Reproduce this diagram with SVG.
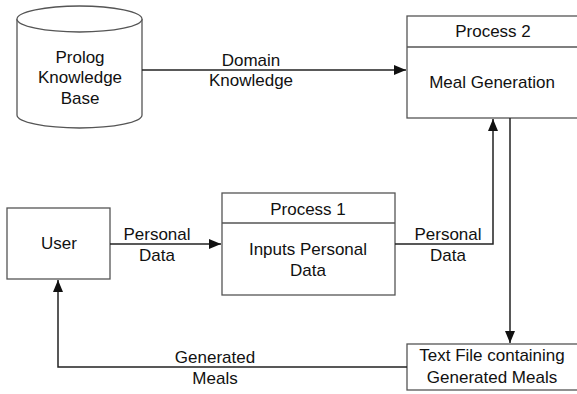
<svg xmlns="http://www.w3.org/2000/svg" width="577" height="394" viewBox="0 0 577 394">
  <style>
    .box { fill: #ffffff; stroke: #555555; stroke-width: 1.3; }
    .wire { fill: none; stroke: #222222; stroke-width: 1.5; }
    text { font-family: "Liberation Sans", Arial, sans-serif; font-size: 17px; fill: #111111; text-anchor: middle; }
  </style>
  <defs>
    <marker id="arrow" viewBox="0 0 12 10" refX="12" refY="5" markerWidth="12" markerHeight="10" markerUnits="userSpaceOnUse" orient="auto">
      <path d="M0,0 L12,5 L0,10 Z" fill="#111111"/>
    </marker>
  </defs>
  <rect width="577" height="394" fill="#ffffff"/>

  <!-- data store -->
  <g id="prolog-kb">
    <path class="box" d="M17,19 L17,115 A62.5,13 0 0 0 142,115 L142,19"/>
    <ellipse class="box" cx="79.5" cy="19" rx="62.5" ry="13"/>
    <text x="80" y="63">Prolog</text>
    <text x="80" y="83">Knowledge</text>
    <text x="80" y="104">Base</text>
  </g>

  <g id="process-2">
    <rect class="box" x="407" y="16" width="175" height="102"/>
    <line class="box" x1="407" y1="47" x2="582" y2="47"/>
    <text x="493" y="37">Process 2</text>
    <text x="492" y="88">Meal Generation</text>
  </g>

  <g id="user">
    <rect class="box" x="7" y="208" width="103" height="71"/>
    <text x="59" y="249">User</text>
  </g>

  <g id="process-1">
    <rect class="box" x="222" y="193" width="173" height="102"/>
    <line class="box" x1="222" y1="223" x2="395" y2="223"/>
    <text x="308" y="215">Process 1</text>
    <text x="308" y="255">Inputs Personal</text>
    <text x="308" y="276">Data</text>
  </g>

  <g id="text-file">
    <rect class="box" x="407" y="344" width="175" height="46"/>
    <text x="492" y="361">Text File containing</text>
    <text x="492" y="383">Generated Meals</text>
  </g>

  <g id="connectors">
    <line class="wire" x1="142" y1="70" x2="406" y2="70" marker-end="url(#arrow)"/>
    <line class="wire" x1="110" y1="244" x2="221" y2="244" marker-end="url(#arrow)"/>
    <polyline class="wire" points="395,244 493,244 493,119" marker-end="url(#arrow)"/>
    <line class="wire" x1="510" y1="118" x2="510" y2="343" marker-end="url(#arrow)"/>
    <polyline class="wire" points="407,367 58,367 58,280" marker-end="url(#arrow)"/>
  </g>

  <g id="connector-labels">
    <text x="251" y="66">Domain</text>
    <text x="251" y="86">Knowledge</text>
    <text x="157" y="240">Personal</text>
    <text x="157" y="261">Data</text>
    <text x="448" y="240">Personal</text>
    <text x="448" y="261">Data</text>
    <text x="215" y="363">Generated</text>
    <text x="215" y="384">Meals</text>
  </g>
</svg>
